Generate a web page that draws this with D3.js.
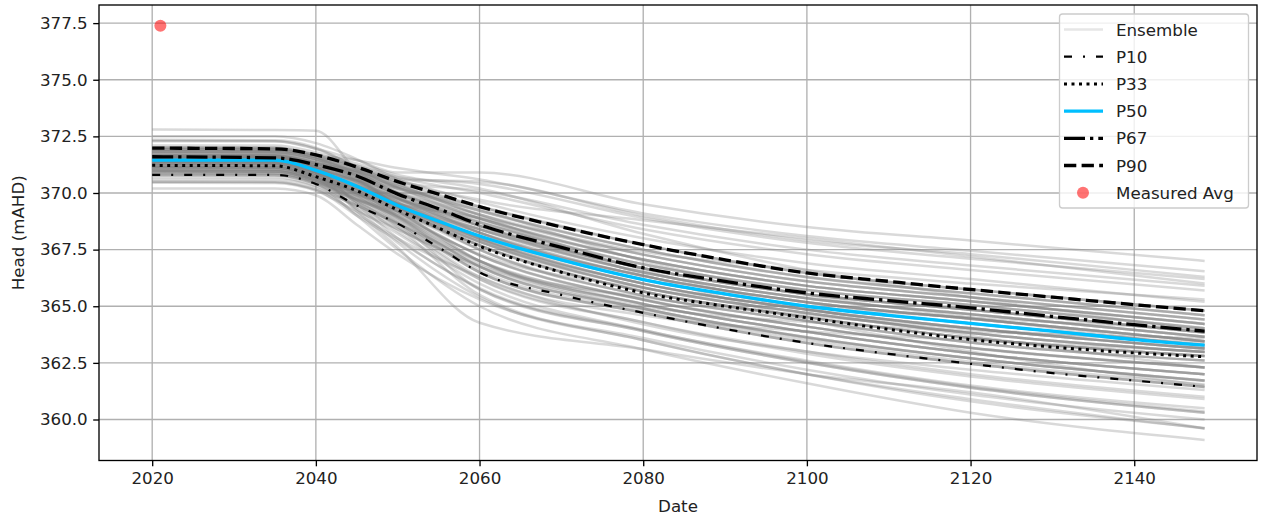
<!DOCTYPE html>
<html><head><meta charset="utf-8">
<script src="https://cdn.jsdelivr.net/npm/d3@7"></script>
<style>body{margin:0;background:#fff} text{font-family:"DejaVu Sans",sans-serif;}</style>
</head><body><svg id="c" width="1261" height="522"></svg>
<script>
// ---------- data ----------
const ensembleYears = [2020, 2035, 2040, 2045, 2050, 2060, 2080, 2100, 2120, 2148.6];
const ensemble = [
  [370.5, 370.48, 370.15, 369.0, 367.9, 365.75, 363.9, 362.5, 361.4, 360.3],
  [370.5, 370.5, 370.15, 369.45, 368.65, 367.0, 365.1, 363.87, 362.93, 362.0],
  [370.8, 370.78, 370.4, 369.0, 367.5, 365.0, 363.1, 361.6, 360.3, 359.1],
  [370.8, 370.8, 370.4, 369.45, 368.65, 366.5, 364.71, 363.38, 362.46, 361.44],
  [370.97, 370.95, 370.54, 369.73, 369.2, 367.85, 365.83, 364.7, 363.82, 362.98],
  [370.97, 370.96, 370.54, 369.6, 368.65, 365.75, 363.9, 362.5, 361.4, 360.3],
  [370.97, 370.97, 370.54, 369.73, 368.95, 367.0, 365.3, 364.1, 363.15, 362.3],
  [371.15, 371.12, 370.68, 370.0, 369.33, 368.1, 366.18, 365.0, 364.24, 363.28],
  [371.15, 371.14, 370.68, 369.85, 368.95, 366.75, 364.9, 363.6, 362.7, 361.7],
  [371.15, 371.15, 370.68, 370.0, 369.2, 367.5, 365.47, 364.35, 363.4, 362.6],
  [371.15, 371.13, 370.68, 370.1, 369.4, 368.4, 366.5, 365.35, 364.65, 363.65],
  [371.3, 371.28, 370.84, 370.0, 368.95, 366.5, 364.71, 363.38, 362.46, 361.44],
  [371.3, 371.3, 370.84, 370.18, 369.33, 367.85, 365.83, 364.7, 363.82, 362.98],
  [371.3, 371.29, 370.84, 370.3, 369.75, 368.7, 366.85, 365.72, 365.05, 364.03],
  [371.3, 371.3, 370.84, 370.1, 369.2, 367.0, 365.1, 363.87, 362.93, 362.0],
  [371.45, 371.44, 371.0, 370.3, 369.45, 368.1, 366.18, 365.0, 364.24, 363.28],
  [371.45, 371.45, 371.0, 370.56, 370.0, 369.05, 367.28, 366.1, 365.4, 364.42],
  [371.45, 371.43, 371.0, 370.24, 369.33, 367.7, 365.65, 364.52, 363.6, 362.8],
  [371.45, 371.45, 371.0, 370.3, 369.6, 368.4, 366.5, 365.35, 364.65, 363.65],
  [371.45, 371.42, 371.0, 370.18, 369.2, 367.0, 365.1, 363.87, 362.93, 362.0],
  [371.54, 371.53, 371.15, 370.43, 369.45, 368.0, 366.0, 364.85, 364.03, 363.13],
  [371.54, 371.52, 371.15, 370.8, 370.25, 369.2, 367.5, 366.3, 365.57, 364.6],
  [371.54, 371.54, 371.15, 370.43, 369.4, 367.85, 365.83, 364.7, 363.82, 362.98],
  [371.54, 371.53, 371.15, 370.56, 369.75, 368.4, 366.5, 365.35, 364.65, 363.65],
  [371.65, 371.63, 371.3, 370.56, 369.45, 367.5, 365.47, 364.35, 363.4, 362.6],
  [371.65, 371.65, 371.3, 370.8, 370.0, 368.7, 366.85, 365.72, 365.05, 364.03],
  [371.65, 371.64, 371.3, 370.97, 370.38, 369.4, 367.72, 366.47, 365.74, 364.8],
  [371.65, 371.64, 371.3, 370.68, 369.6, 368.1, 366.18, 365.0, 364.24, 363.28],
  [371.83, 371.82, 371.5, 370.97, 370.25, 369.05, 367.28, 366.1, 365.4, 364.42],
  [371.83, 371.8, 371.5, 370.9, 370.0, 368.55, 366.68, 365.53, 364.85, 363.84],
  [371.83, 371.83, 371.5, 371.06, 370.5, 370.1, 368.6, 367.5, 366.8, 365.9],
  [371.83, 371.81, 371.5, 370.8, 369.75, 367.98, 366.0, 364.85, 364.03, 363.13],
  [372.0, 371.98, 371.68, 371.15, 370.5, 369.4, 367.72, 366.47, 365.74, 364.8],
  [372.0, 372.0, 371.68, 371.06, 370.25, 368.88, 367.06, 365.9, 365.22, 364.22],
  [372.0, 371.99, 371.68, 371.45, 371.1, 370.6, 369.1, 368.1, 367.45, 366.55],
  [372.3, 372.28, 371.95, 371.15, 370.38, 369.05, 367.28, 366.1, 365.4, 364.42],
  [372.3, 372.29, 371.95, 371.45, 370.9, 370.9, 369.5, 368.5, 367.9, 367.0],
  [372.8, 372.78, 372.75, 371.0, 370.0, 368.25, 366.34, 365.18, 364.45, 363.46],
  [371.4, 371.38, 370.9, 369.2, 367.6, 364.27, 363.1, 362.0, 361.2, 359.6],
  [371.2, 371.2, 370.75, 369.7, 368.5, 365.5, 363.5, 362.0, 360.8, 359.63],
  [370.9, 370.88, 370.47, 369.9, 369.5, 368.9, 367.4, 366.6, 366.0, 365.3],
  [371.6, 371.6, 371.22, 370.9, 370.6, 370.5, 369.0, 367.9, 367.3, 366.3],
  [370.2, 370.2, 369.9, 368.6, 367.3, 365.3, 363.6, 362.2, 361.1, 360.0],
  [371.9, 371.88, 371.58, 370.7, 369.4, 367.7, 365.65, 364.52, 363.6, 362.8],
  [371.38, 371.37, 370.92, 370.4, 369.8, 368.55, 366.68, 365.53, 364.85, 363.84],
  [370.88, 370.86, 370.47, 369.7, 369.0, 367.25, 365.29, 364.1, 363.17, 362.3],
  [371.06, 371.05, 370.61, 369.8, 368.85, 366.75, 364.9, 363.63, 362.7, 361.72],
  [371.22, 371.2, 370.76, 370.2, 369.5, 368.25, 366.34, 365.18, 364.45, 363.46],
  [371.38, 371.36, 370.92, 370.1, 369.15, 367.25, 365.29, 364.1, 363.17, 362.3],
  [371.5, 371.49, 371.08, 370.6, 369.95, 368.88, 367.06, 365.9, 365.22, 364.22],
  [371.6, 371.58, 371.22, 370.55, 369.5, 367.98, 366.0, 364.85, 364.03, 363.13],
  [371.74, 371.73, 371.4, 370.95, 370.3, 369.23, 367.5, 366.28, 365.57, 364.6],
  [371.92, 371.9, 371.59, 370.95, 370.1, 368.55, 366.68, 365.53, 364.85, 363.84],
  [370.88, 370.87, 370.47, 369.3, 368.2, 366.0, 363.95, 362.6, 361.5, 360.5],
  [371.06, 371.04, 370.61, 369.95, 369.2, 367.68, 365.65, 364.52, 363.6, 362.8],
  [371.22, 371.21, 370.76, 369.9, 368.9, 366.75, 364.9, 363.63, 362.7, 361.72],
  [371.38, 371.37, 370.92, 370.35, 369.7, 368.55, 366.68, 365.53, 364.85, 363.84],
  [371.5, 371.48, 371.08, 370.3, 369.3, 367.68, 365.65, 364.52, 363.6, 362.8],
  [371.6, 371.59, 371.22, 370.8, 370.2, 369.23, 367.5, 366.28, 365.57, 364.6],
  [371.74, 371.72, 371.4, 370.75, 369.8, 368.25, 366.34, 365.18, 364.45, 363.46],
  [371.92, 371.91, 371.59, 371.2, 370.7, 370.0, 368.4, 367.3, 366.6, 365.7],
  [370.45, 370.44, 370.1, 369.2, 368.4, 366.75, 364.9, 363.63, 362.7, 361.72],
  [372.35, 372.33, 372.0, 371.1, 370.2, 368.88, 367.06, 365.9, 365.22, 364.22],
  [371.06, 371.05, 370.61, 370.0, 369.35, 367.98, 366.0, 364.85, 364.03, 363.13],
  [371.22, 371.22, 370.76, 370.0, 369.1, 367.25, 365.29, 364.1, 363.17, 362.3],
  [371.38, 371.38, 370.92, 370.3, 369.55, 368.25, 366.34, 365.18, 364.45, 363.46],
  [371.5, 371.5, 371.08, 370.5, 369.75, 368.55, 366.68, 365.53, 364.85, 363.84],
  [371.6, 371.6, 371.22, 370.7, 370.0, 368.88, 367.06, 365.9, 365.22, 364.22],
  [371.74, 371.74, 371.4, 370.6, 369.6, 367.98, 366.0, 364.85, 364.03, 363.13],
  [371.92, 371.92, 371.59, 370.85, 369.85, 368.25, 366.34, 365.18, 364.45, 363.46],
  [371.38, 371.36, 370.92, 369.6, 368.3, 366.2, 364.3, 362.9, 361.9, 360.9],
  [371.5, 371.48, 371.08, 369.5, 368.0, 365.8, 363.95, 362.55, 361.45, 360.35],
  [371.15, 371.13, 370.68, 369.3, 367.8, 365.4, 363.5, 362.0, 360.9, 359.6],
  [371.54, 371.52, 371.15, 369.95, 368.8, 366.6, 364.8, 363.5, 362.55, 361.55],
  [370.97, 370.95, 370.54, 370.05, 369.55, 368.4, 366.5, 365.35, 364.65, 363.65],
  [370.8, 370.79, 370.4, 369.7, 369.1, 367.68, 365.65, 364.52, 363.6, 362.8],
  [371.65, 371.63, 371.3, 371.0, 370.7, 370.4, 368.9, 367.8, 367.1, 366.2],
  [372.0, 372.0, 371.68, 371.2, 370.6, 369.6, 368.0, 366.9, 366.2, 365.2],
  [371.3, 371.28, 370.84, 370.55, 370.2, 369.4, 367.72, 366.47, 365.74, 364.8],
  [371.45, 371.44, 371.0, 369.85, 368.7, 366.5, 364.71, 363.38, 362.46, 361.44],
  [371.83, 371.82, 371.5, 370.6, 369.45, 367.5, 365.47, 364.35, 363.4, 362.6],
  [371.54, 371.54, 371.15, 370.15, 369.0, 367.0, 365.1, 363.87, 362.93, 362.0],
  [371.15, 371.14, 370.68, 370.2, 369.7, 368.7, 366.85, 365.72, 365.05, 364.03],
  [371.65, 371.64, 371.3, 370.5, 369.5, 367.85, 365.83, 364.7, 363.82, 362.98],
  [370.97, 370.96, 370.54, 369.5, 368.5, 366.2, 364.3, 363.0, 362.0, 361.0],
  [371.1, 371.1, 370.7, 369.6, 368.6, 366.3, 364.6, 363.9, 363.5, 363.0],
  [371.7, 371.7, 371.35, 370.9, 370.3, 369.3, 367.0, 365.5, 364.5, 363.2],
  [371.3, 371.3, 370.9, 370.0, 369.0, 367.3, 365.8, 365.0, 364.5, 364.0],
  [371.9, 371.9, 371.6, 371.1, 370.4, 369.0, 366.6, 364.9, 363.7, 362.3],
  [370.7, 370.7, 370.3, 369.4, 368.4, 366.8, 365.4, 364.6, 364.0, 363.4],
  [371.5, 371.5, 371.1, 370.5, 369.8, 368.8, 366.4, 364.4, 363.0, 361.5],
  [372.1, 372.1, 371.8, 371.3, 370.8, 370.2, 368.2, 366.6, 365.4, 363.9],
  [371.0, 371.0, 370.6, 369.7, 368.7, 366.9, 365.0, 364.3, 363.9, 363.6],
  [372.5, 372.5, 372.2, 371.5, 370.6, 369.7, 368.8, 368.0, 367.2, 366.0],
  [370.6, 370.6, 370.25, 369.1, 368.0, 366.3, 364.2, 363.0, 362.2, 361.3]
];
const pctYears = [2020, 2035, 2040, 2045, 2050, 2055, 2060, 2070, 2080, 2090, 2100, 2110, 2120, 2130, 2140, 2148.6];
const p10 = [370.8, 370.8, 370.4, 369.45, 368.65, 367.6, 366.5, 365.5, 364.71, 364.0, 363.38, 362.9, 362.46, 362.05, 361.72, 361.44];
const p33 = [371.22, 371.2, 370.72, 370.1, 369.25, 368.45, 367.65, 366.5, 365.59, 365.0, 364.49, 363.98, 363.53, 363.2, 362.94, 362.77];
const p50 = [371.45, 371.45, 371.0, 370.3, 369.45, 368.75, 368.1, 367.05, 366.18, 365.55, 365.0, 364.6, 364.24, 363.9, 363.53, 363.28];
const p67 = [371.6, 371.55, 371.25, 370.75, 369.95, 369.3, 368.6, 367.6, 366.7, 366.1, 365.59, 365.25, 364.93, 364.55, 364.19, 363.9];
const p90 = [371.98, 371.95, 371.68, 371.15, 370.5, 369.95, 369.4, 368.5, 367.72, 367.05, 366.47, 366.1, 365.74, 365.4, 365.07, 364.8];
const measuredYears = [2021];
const measuredValues = [377.38];
const xTicks = [2020, 2040, 2060, 2080, 2100, 2120, 2140];
const yTicks = [360.0, 362.5, 365.0, 367.5, 370.0, 372.5, 375.0, 377.5];
const legendLabels = ["Ensemble", "P10", "P33", "P50", "P67", "P90", "Measured Avg"];

// ---------- layout ----------
const L = 99, R = 1257, T = 5, B = 460.5;
const svg = d3.select("#c");
const x = d3.scaleLinear().domain([2013.5, 2155.0]).range([L, R]);
const y = d3.scaleLinear().domain([358.19, 378.30]).range([B, T]);
const FS = 16.7;
const ensColor = "rgba(128,128,128,0.3)";

svg.append("defs").append("clipPath").attr("id", "clip")
  .append("rect").attr("x", L).attr("y", T).attr("width", R - L).attr("height", B - T);

// grid
const grid = svg.append("g");
grid.selectAll("line.gx").data(xTicks).join("line")
  .attr("x1", d => x(d)).attr("x2", d => x(d)).attr("y1", T).attr("y2", B)
  .attr("stroke", "#b0b0b0").attr("stroke-width", 1.33);
grid.selectAll("line.gy").data(yTicks).join("line")
  .attr("y1", d => y(d)).attr("y2", d => y(d)).attr("x1", L).attr("x2", R)
  .attr("stroke", "#b0b0b0").attr("stroke-width", 1.33);

const plot = svg.append("g").attr("clip-path", "url(#clip)");

// ensemble
const eLine = d3.line().x((d, i) => x(ensembleYears[i])).y(d => y(d)).curve(d3.curveMonotoneX);
plot.append("g").selectAll("path").data(ensemble).join("path")
  .attr("d", eLine).attr("fill", "none")
  .attr("stroke", ensColor).attr("stroke-width", 2.5);

// percentiles
const pLine = d3.line().x((d, i) => x(pctYears[i])).y(d => y(d)).curve(d3.curveMonotoneX);
const styles = [
  {data: p10, color: "#000", w: 2.2, dash: "8,11,2,11"},
  {data: p33, color: "#000", w: 3, dash: "3,4.5"},
  {data: p50, color: "#00bfff", w: 3.3, dash: null},
  {data: p67, color: "#000", w: 3.3, dash: "21,5,3.3,5"},
  {data: p90, color: "#000", w: 3.3, dash: "12.3,5.3"}
];
styles.forEach(s => {
  plot.append("path").attr("d", pLine(s.data)).attr("fill", "none")
    .attr("stroke", s.color).attr("stroke-width", s.w)
    .attr("stroke-dasharray", s.dash);
});

// measured
plot.selectAll("circle").data(measuredYears).join("circle")
  .attr("cx", d => x(d)).attr("cy", (d, i) => y(measuredValues[i])).attr("r", 6)
  .attr("fill", "rgba(255,0,0,0.55)");

// frame
svg.append("rect").attr("x", L).attr("y", T).attr("width", R - L).attr("height", B - T)
  .attr("fill", "none").attr("stroke", "#000").attr("stroke-width", 1.33);

// axes
const xa = svg.append("g").attr("transform", `translate(0,${B})`)
  .call(d3.axisBottom(x).tickValues(xTicks).tickFormat(d3.format("d")).tickSize(5.8).tickPadding(5.5));
const ya = svg.append("g").attr("transform", `translate(${L},0)`)
  .call(d3.axisLeft(y).tickValues(yTicks).tickFormat(d3.format(".1f")).tickSize(5.8).tickPadding(5.5));
[xa, ya].forEach(a => {
  a.select(".domain").remove();
  a.selectAll("line").attr("stroke", "#000").attr("stroke-width", 1.33);
  a.selectAll("text").attr("font-size", FS).attr("fill", "#222").attr("font-family", "DejaVu Sans");
});

svg.append("text").attr("x", (L + R) / 2).attr("y", 512).attr("text-anchor", "middle")
  .attr("font-size", FS).attr("fill", "#222").text("Date");
svg.append("text").attr("transform", `translate(24,${(T + B) / 2}) rotate(-90)`)
  .attr("text-anchor", "middle").attr("font-size", FS).attr("fill", "#222").text("Head (mAHD)");

// legend
const lg = svg.append("g");
lg.append("rect").attr("x", 1059.5).attr("y", 14).attr("width", 189).attr("height", 194).attr("rx", 3)
  .attr("fill", "rgba(255,255,255,0.8)").attr("stroke", "#cccccc").attr("stroke-width", 1.33);
const rowY = i => 29.5 + i * 27.2;
const lx1 = 1064, lx2 = 1103;
lg.append("line").attr("x1", lx1).attr("x2", lx2).attr("y1", rowY(0)).attr("y2", rowY(0))
  .attr("stroke", "rgba(128,128,128,0.2)").attr("stroke-width", 2.5);
styles.forEach((s, i) => {
  lg.append("line").attr("x1", lx1).attr("x2", lx2).attr("y1", rowY(i + 1)).attr("y2", rowY(i + 1))
    .attr("stroke", s.color).attr("stroke-width", s.w).attr("stroke-dasharray", s.dash);
});
lg.append("circle").attr("cx", 1083).attr("cy", rowY(6)).attr("r", 6).attr("fill", "rgba(255,0,0,0.55)");
lg.selectAll("text").data(legendLabels).join("text")
  .attr("x", 1116).attr("y", (d, i) => rowY(i)).attr("dy", "0.36em")
  .attr("font-size", FS).attr("fill", "#222").text(d => d);
</script></body></html>
